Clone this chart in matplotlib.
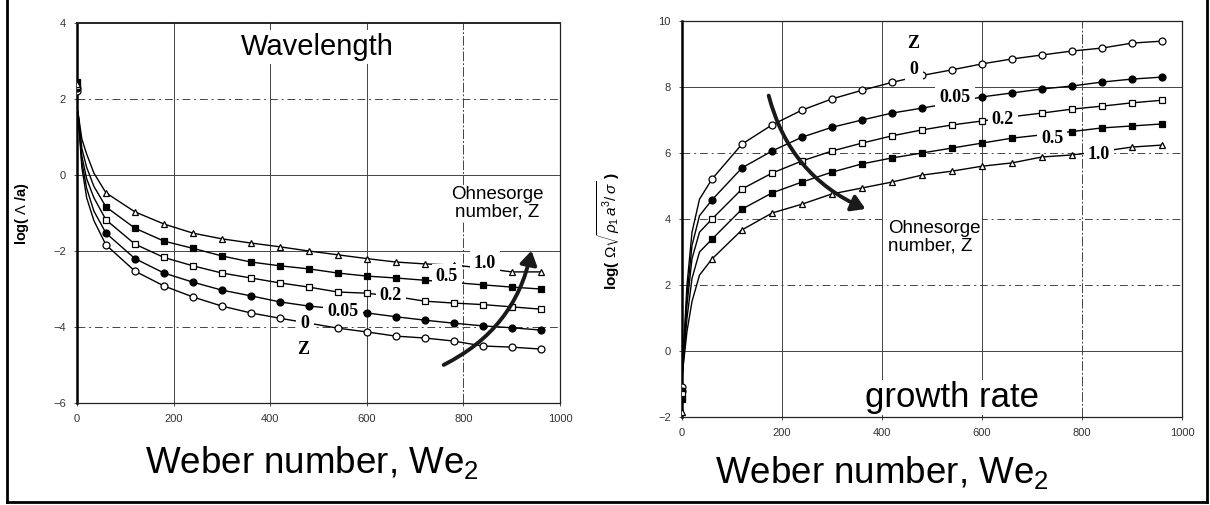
import matplotlib
matplotlib.use("Agg")
import matplotlib.pyplot as plt
from matplotlib.patches import FancyArrowPatch
from matplotlib.lines import Line2D

plt.rcParams['font.family'] = ['Liberation Sans', 'DejaVu Sans']
plt.rcParams['mathtext.fontset'] = 'custom'
plt.rcParams['mathtext.rm'] = 'Liberation Sans'
plt.rcParams['mathtext.it'] = 'Liberation Sans:italic'

# ---- data -------------------------------------------------------------
weber = [0, 60, 120, 180, 240, 300, 360, 420, 480, 540, 600, 660, 720, 780, 840, 900, 960]
z_labels = ['0', '0.05', '0.2', '0.5', '1.0']
markers = ['o', 'o', 's', 's', '^']
fills = ['white', 'black', 'white', 'black', 'white']

# wavelength, log(Lambda/a)
wave_0 = [2.20, -1.84, -2.53, -2.92, -3.21, -3.45, -3.63, -3.77, -3.90, -4.03, -4.13, -4.24, -4.29, -4.37, -4.50, -4.53, -4.58]
wave_005 = [2.30, -1.53, -2.20, -2.58, -2.82, -3.03, -3.18, -3.34, -3.45, -3.52, -3.63, -3.73, -3.82, -3.90, -3.97, -4.02, -4.08]
wave_02 = [2.35, -1.18, -1.82, -2.17, -2.39, -2.58, -2.71, -2.84, -2.95, -3.08, -3.11, -3.20, -3.32, -3.37, -3.41, -3.47, -3.53]
wave_05 = [2.45, -0.84, -1.40, -1.74, -1.93, -2.13, -2.29, -2.39, -2.47, -2.58, -2.66, -2.71, -2.77, -2.83, -2.89, -2.95, -3.00]
wave_10 = [2.40, -0.47, -0.97, -1.29, -1.53, -1.68, -1.79, -1.89, -2.00, -2.10, -2.20, -2.29, -2.34, -2.37, -2.45, -2.55, -2.55]
wave_series = [wave_0, wave_005, wave_02, wave_05, wave_10]

# fitted curves near We = 0
head_we = [2, 10, 20, 35]
wave_head = [
    [1.65, 0.20, -0.60, -1.20],
    [1.65, 0.35, -0.35, -0.95],
    [1.65, 0.50, -0.10, -0.60],
    [1.65, 0.70, 0.20, -0.30],
    [1.65, 0.95, 0.55, 0.05],
]

# growth rate, log(Omega sqrt(rho1 a^3 / sigma))
grow_0 = [-1.10, 5.21, 6.27, 6.85, 7.30, 7.64, 7.90, 8.14, 8.35, 8.52, 8.70, 8.85, 8.97, 9.09, 9.18, 9.33, 9.39]
grow_005 = [-1.20, 4.58, 5.55, 6.06, 6.48, 6.78, 7.00, 7.21, 7.36, 7.52, 7.70, 7.82, 7.94, 8.03, 8.15, 8.24, 8.30]
grow_02 = [-1.30, 4.00, 4.91, 5.39, 5.76, 6.06, 6.30, 6.52, 6.70, 6.85, 6.97, 7.10, 7.21, 7.33, 7.42, 7.52, 7.60]
grow_05 = [-1.45, 3.39, 4.30, 4.79, 5.12, 5.42, 5.67, 5.85, 6.00, 6.15, 6.30, 6.45, 6.55, 6.65, 6.76, 6.82, 6.88]
grow_10 = [-1.85, 2.79, 3.67, 4.18, 4.45, 4.76, 4.94, 5.12, 5.33, 5.45, 5.60, 5.70, 5.88, 5.94, 6.05, 6.18, 6.24]
grow_series = [grow_0, grow_005, grow_02, grow_05, grow_10]

grow_head_we = [0, 10, 20, 35]
grow_head = [
    [-0.80, 2.00, 3.60, 4.60],
    [-0.80, 1.70, 3.20, 4.10],
    [-0.80, 1.40, 2.80, 3.60],
    [-0.80, 1.00, 2.20, 3.00],
    [-0.80, 0.60, 1.50, 2.30],
]

# curve label positions (We, value)
wave_label_pos = [(472, -3.92), (551, -3.60), (650, -3.18), (766, -2.68), (845, -2.32)]
grow_label_pos = [(464, 8.52), (546, 7.67), (642, 7.00), (740, 6.45), (834, 5.94)]

x_ticks = [0, 200, 400, 600, 800, 1000]
wave_yticks = [4, 2, 0, -2, -4, -6]
grow_yticks = [10, 8, 6, 4, 2, 0, -2]

# ---- figure -------------------------------------------------------------
W, H = 1210, 505
fig = plt.figure(figsize=(W / 100, H / 100), dpi=100)

# outer frame
for xs, ys in [([7, 7], [0, 502]), ([1207, 1207], [0, 502]), ([7, 1207], [502, 502])]:
    fig.add_artist(Line2D([x / W for x in xs], [1 - y / H for y in ys], color='black', lw=2.0))

ax1 = fig.add_axes([77 / W, 1 - 403 / H, 483 / W, 380 / H])
ax2 = fig.add_axes([682 / W, 1 - 417 / H, 500 / W, 396 / H])

serif = {'family': ['Liberation Serif', 'DejaVu Serif'], 'fontsize': 13, 'weight': 'bold'}
dashdot = (0, (8, 4, 2, 4))


def style_axes(ax, yticks, hstyles, vstyles):
    ax.set_xlim(0, 1000)
    ax.set_ylim(min(yticks), max(yticks))
    ax.set_xticks(x_ticks)
    ax.set_yticks(yticks)
    ax.tick_params(length=2, width=0.6, labelsize=8, colors='#333333', pad=6)
    for s in ax.spines.values():
        s.set_linewidth(0.9)
        s.set_color('#222222')
    ax.spines['left'].set_linewidth(1.8)
    ax.spines['left'].set_color('black')
    for val, ls in hstyles:
        ax.axhline(val, color='#444444', lw=0.7, ls=ls, zorder=1)
    for val, ls in vstyles:
        ax.axvline(val, color='#444444', lw=0.7, ls=ls, zorder=1)


style_axes(ax1, wave_yticks,
           [(2, dashdot), (0, '-'), (-2, '-'), (-4, dashdot)],
           [(200, '-'), (400, '-'), (600, '-'), (800, (0, (10, 2, 2, 2)))])
ax1.spines['top'].set_linewidth(1.4)
style_axes(ax2, grow_yticks,
           [(8, '-'), (6, dashdot), (4, dashdot), (2, dashdot), (0, '-')],
           [(200, '-'), (400, '-'), (600, '-'), (800, (0, (10, 2, 2, 2)))])

for i in range(5):
    # wavelength
    ax1.plot(head_we + weber[1:], wave_head[i] + wave_series[i][1:], color='black', lw=1.0, zorder=3)
    ax1.plot(weber, wave_series[i], ls='none', marker=markers[i], ms=5,
             mfc=fills[i], mec='black', mew=0.9, zorder=4)
    # growth rate
    ax2.plot(grow_head_we + weber[1:], grow_head[i] + grow_series[i][1:], color='black', lw=1.0, zorder=3)
    ax2.plot(weber, grow_series[i], ls='none', marker=markers[i], ms=5,
             mfc=fills[i], mec='black', mew=0.9, zorder=4)

box = dict(facecolor='white', edgecolor='none', pad=3.0)
for lab, (x, y) in zip(z_labels, wave_label_pos):
    ax1.text(x, y, lab, ha='center', va='center', bbox=box, zorder=5, **serif)
for lab, (x, y) in zip(z_labels, grow_label_pos):
    ax2.text(x, y, lab, ha='center', va='center', bbox=box, zorder=5, **serif)
ax1.text(468, -4.6, 'Z', ha='center', va='center', zorder=5, **serif)
ax2.text(462, 9.33, 'Z', ha='center', va='center', zorder=5, **serif)

# panel titles and notes
ax1.text(497, 3.37, 'Wavelength', fontsize=21, ha='center', va='center',
         bbox=dict(facecolor='white', edgecolor='none', pad=2), zorder=6)
ax1.text(870, -0.74, 'Ohnesorge\nnumber, Z', fontsize=13.5, ha='center', va='center',
         linespacing=1.0, zorder=6, bbox=dict(facecolor='white', edgecolor='none', pad=1))
ax2.text(412, 3.45, 'Ohnesorge\nnumber, Z', fontsize=13.5, ha='left', va='center',
         linespacing=1.0, zorder=6, bbox=dict(facecolor='white', edgecolor='none', pad=1))
ax2.text(540, -1.7, 'growth rate', fontsize=25, ha='center', va='baseline',
         bbox=dict(facecolor='white', edgecolor='none', pad=1), zorder=6, clip_on=False)

# direction arrows
ax1.add_patch(FancyArrowPatch((754, -5.03), (942, -1.92), connectionstyle='arc3,rad=0.25',
                              arrowstyle='-|>,head_length=8,head_width=5', lw=2.8,
                              color='#1a1a1a', zorder=7, clip_on=False))
ax2.add_patch(FancyArrowPatch((172, 7.82), (372, 4.27), connectionstyle='arc3,rad=0.25',
                              arrowstyle='-|>,head_length=8,head_width=5', lw=2.8,
                              color='#1a1a1a', zorder=7))

# axis titles
ax1.set_ylabel(r'log( $\Lambda$ /a)', fontsize=10.5, fontweight='bold', labelpad=16)
ax2.set_ylabel(r'log( $\Omega\sqrt{\rho_1 \, a^3 / \,\sigma}$ )', fontsize=11, fontweight='bold', labelpad=16)
ax2.yaxis.set_label_coords(-0.12, 0.47)
fig.text(312 / W, 1 - 473 / H, r'Weber number, We$_2$', fontsize=26.5, ha='center', va='baseline')
fig.text(882 / W, 1 - 483 / H, r'Weber number, We$_2$', fontsize=26.5, ha='center', va='baseline')

fig.savefig('out.png', dpi=100)
